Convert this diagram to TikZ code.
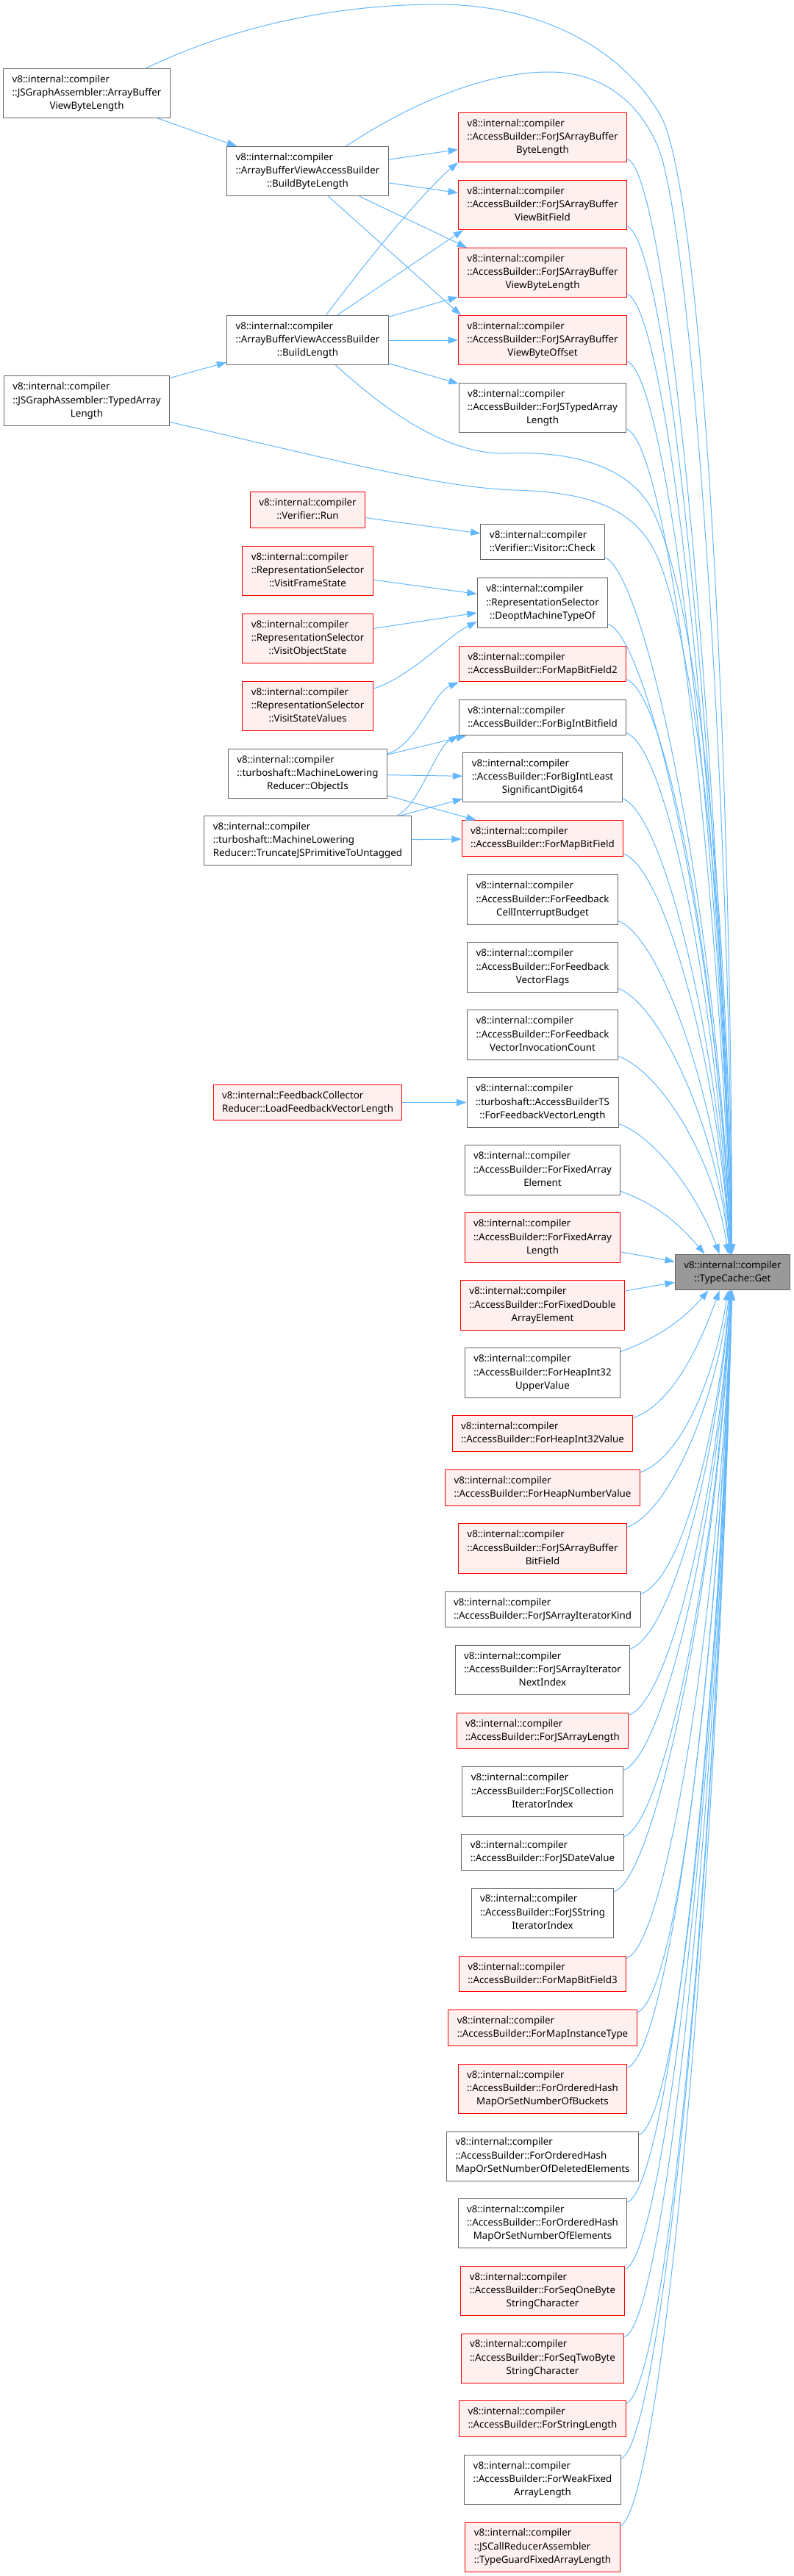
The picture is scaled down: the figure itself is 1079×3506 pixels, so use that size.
\documentclass[tikz,border=0pt]{standalone}
\usepackage{fontspec}
\setmainfont{Noto Sans}
\usepackage{tikz}
\usetikzlibrary{positioning,arrows.meta,calc}
\usepackage{xcolor}
\definecolor{callblue}{HTML}{63B8FF}
\definecolor{boxgrey}{HTML}{666666}
\definecolor{hotfill}{HTML}{FFF0F0}
\definecolor{getfill}{HTML}{999999}
% first lines left, last line centred (doxygen style label)
\newcommand{\fnlabel}[2]{\begin{tabular}{@{}l@{}}#1\\\multicolumn{1}{@{}c@{}}{#2}\end{tabular}}

\begin{document}
\begin{tikzpicture}[x=0.75pt,y=-0.75pt,
  fnbox/.style={draw=boxgrey,fill=white,line width=0.75pt,inner xsep=9pt,inner ysep=4.6pt,font={\fontsize{10}{13.7}\selectfont}},
  hotbox/.style={fnbox,draw=red,fill=hotfill},
  getbox/.style={fnbox,fill=getfill},
  callarrow/.style={draw=callblue,line width=0.75pt,-{Triangle[length=10pt,width=7pt]}}]
\path[use as bounding box,fill=white] (0,0) rectangle (1079,3506);

% callers, far left
\node[fnbox] (a1) at (118,127) {\fnlabel{v8::internal::compiler\\::JSGraphAssembler::ArrayBuffer}{ViewByteLength}};
\node[fnbox] (a2) at (118,545.5) {\fnlabel{v8::internal::compiler\\::JSGraphAssembler::TypedArray}{Length}};

% second column
\node[fnbox] (bbl) at (418.5,233) {\fnlabel{v8::internal::compiler\\::ArrayBufferViewAccessBuilder}{::BuildByteLength}};
\node[fnbox] (bl) at (418.5,463) {\fnlabel{v8::internal::compiler\\::ArrayBufferViewAccessBuilder}{::BuildLength}};
\node[hotbox] (run) at (418.5,694) {\fnlabel{v8::internal::compiler}{::Verifier::Run}};
\node[hotbox] (vfs) at (418.5,777) {\fnlabel{v8::internal::compiler\\::RepresentationSelector}{::VisitFrameState}};
\node[hotbox] (vos) at (418.5,869) {\fnlabel{v8::internal::compiler\\::RepresentationSelector}{::VisitObjectState}};
\node[hotbox] (vsv) at (418.5,961) {\fnlabel{v8::internal::compiler\\::RepresentationSelector}{::VisitStateValues}};
\node[fnbox] (oi) at (418.5,1053) {\fnlabel{v8::internal::compiler\\::turboshaft::MachineLowering}{Reducer::ObjectIs}};
\node[fnbox] (tr) at (418.5,1144) {\fnlabel{v8::internal::compiler\\::turboshaft::MachineLowering}{Reducer::TruncateJSPrimitiveToUntagged}};
\node[hotbox] (lfvl) at (418.5,1500.5) {\fnlabel{v8::internal::FeedbackCollector}{Reducer::LoadFeedbackVectorLength}};

% direct callers of TypeCache::Get
\node[hotbox] (bytelen) at (738,187) {\fnlabel{v8::internal::compiler\\::AccessBuilder::ForJSArrayBuffer}{ByteLength}};
\node[hotbox] (vbf) at (738,279) {\fnlabel{v8::internal::compiler\\::AccessBuilder::ForJSArrayBuffer}{ViewBitField}};
\node[hotbox] (vbl) at (738,371) {\fnlabel{v8::internal::compiler\\::AccessBuilder::ForJSArrayBuffer}{ViewByteLength}};
\node[hotbox] (vbo) at (738,463) {\fnlabel{v8::internal::compiler\\::AccessBuilder::ForJSArrayBuffer}{ViewByteOffset}};
\node[fnbox] (jsta) at (738,555) {\fnlabel{v8::internal::compiler\\::AccessBuilder::ForJSTypedArray}{Length}};
\node[fnbox] (check) at (738,737.5) {\fnlabel{v8::internal::compiler}{::Verifier::Visitor::Check}};
\node[fnbox] (deopt) at (738,820.5) {\fnlabel{v8::internal::compiler\\::RepresentationSelector}{::DeoptMachineTypeOf}};
\node[hotbox] (mbf2) at (738,903.5) {\fnlabel{v8::internal::compiler}{::AccessBuilder::ForMapBitField2}};
\node[fnbox] (bibf) at (738,976.5) {\fnlabel{v8::internal::compiler}{::AccessBuilder::ForBigIntBitfield}};
\node[fnbox] (bilsd) at (738,1058) {\fnlabel{v8::internal::compiler\\::AccessBuilder::ForBigIntLeast}{SignificantDigit64}};
\node[hotbox] (mbf) at (738,1141) {\fnlabel{v8::internal::compiler}{::AccessBuilder::ForMapBitField}};
\node[fnbox] (fcib) at (738,1224.5) {\fnlabel{v8::internal::compiler\\::AccessBuilder::ForFeedback}{CellInterruptBudget}};
\node[fnbox] (fvf) at (738,1316.5) {\fnlabel{v8::internal::compiler\\::AccessBuilder::ForFeedback}{VectorFlags}};
\node[fnbox] (fvic) at (738,1408.5) {\fnlabel{v8::internal::compiler\\::AccessBuilder::ForFeedback}{VectorInvocationCount}};
\node[fnbox] (tsfvl) at (738,1500.5) {\fnlabel{v8::internal::compiler\\::turboshaft::AccessBuilderTS}{::ForFeedbackVectorLength}};
\node[fnbox] (fae) at (738,1592.5) {\fnlabel{v8::internal::compiler\\::AccessBuilder::ForFixedArray}{Element}};
\node[hotbox] (fal) at (738,1684.5) {\fnlabel{v8::internal::compiler\\::AccessBuilder::ForFixedArray}{Length}};
\node[hotbox] (fdae) at (738,1776.5) {\fnlabel{v8::internal::compiler\\::AccessBuilder::ForFixedDouble}{ArrayElement}};
\node[fnbox] (hi32u) at (738,1868.5) {\fnlabel{v8::internal::compiler\\::AccessBuilder::ForHeapInt32}{UpperValue}};
\node[hotbox] (hi32) at (738,1951) {\fnlabel{v8::internal::compiler}{::AccessBuilder::ForHeapInt32Value}};
\node[hotbox] (hnv) at (738,2025) {\fnlabel{v8::internal::compiler}{::AccessBuilder::ForHeapNumberValue}};
\node[hotbox] (jsabbf) at (738,2107.5) {\fnlabel{v8::internal::compiler\\::AccessBuilder::ForJSArrayBuffer}{BitField}};
\node[fnbox] (jsaik) at (738,2190.5) {\fnlabel{v8::internal::compiler}{::AccessBuilder::ForJSArrayIteratorKind}};
\node[fnbox] (jsaini) at (738,2273) {\fnlabel{v8::internal::compiler\\::AccessBuilder::ForJSArrayIterator}{NextIndex}};
\node[hotbox] (jsal) at (738,2355.5) {\fnlabel{v8::internal::compiler}{::AccessBuilder::ForJSArrayLength}};
\node[fnbox] (jscii) at (738,2438.5) {\fnlabel{v8::internal::compiler\\::AccessBuilder::ForJSCollection}{IteratorIndex}};
\node[fnbox] (jsdv) at (738,2521) {\fnlabel{v8::internal::compiler}{::AccessBuilder::ForJSDateValue}};
\node[fnbox] (jssii) at (738,2603.5) {\fnlabel{v8::internal::compiler\\::AccessBuilder::ForJSString}{IteratorIndex}};
\node[hotbox] (mbf3) at (738,2686.5) {\fnlabel{v8::internal::compiler}{::AccessBuilder::ForMapBitField3}};
\node[hotbox] (mit) at (738,2760) {\fnlabel{v8::internal::compiler}{::AccessBuilder::ForMapInstanceType}};
\node[hotbox] (ohb) at (738,2843) {\fnlabel{v8::internal::compiler\\::AccessBuilder::ForOrderedHash}{MapOrSetNumberOfBuckets}};
\node[fnbox] (ohde) at (738,2934.5) {\fnlabel{v8::internal::compiler\\::AccessBuilder::ForOrderedHash}{MapOrSetNumberOfDeletedElements}};
\node[fnbox] (ohe) at (738,3026) {\fnlabel{v8::internal::compiler\\::AccessBuilder::ForOrderedHash}{MapOrSetNumberOfElements}};
\node[hotbox] (sob) at (738,3118) {\fnlabel{v8::internal::compiler\\::AccessBuilder::ForSeqOneByte}{StringCharacter}};
\node[hotbox] (stb) at (738,3209.5) {\fnlabel{v8::internal::compiler\\::AccessBuilder::ForSeqTwoByte}{StringCharacter}};
\node[hotbox] (sl) at (738,3292) {\fnlabel{v8::internal::compiler}{::AccessBuilder::ForStringLength}};
\node[fnbox] (wfal) at (738,3375) {\fnlabel{v8::internal::compiler\\::AccessBuilder::ForWeakFixed}{ArrayLength}};
\node[hotbox] (tgfal) at (738,3466.5) {\fnlabel{v8::internal::compiler\\::JSCallReducerAssembler}{::TypeGuardFixedArrayLength}};

% the callee
\node[getbox] (get) at (996.5,1731.5) {\fnlabel{v8::internal::compiler}{::TypeCache::Get}};

% left part of the graph
\draw[callarrow] (a1) -- (bbl);
\draw[callarrow] (a2) -- (bl);
\draw[callarrow] (bbl) -- (bytelen);
\draw[callarrow] (bbl) -- (vbf);
\draw[callarrow] ($(bbl.south)+(70,0)$) -- ($(vbl.north west)+(12,0)$);
\draw[callarrow] ($(bbl.south)+(28,0)$) -- ($(vbo.north west)+(4,0)$);
\draw[callarrow] ($(bl.north)+(25,0)$) .. controls +(90,-120) and +(-30,25) .. (bytelen.south west);
\draw[callarrow] ($(bl.north)+(40,0)$) -- ($(vbf.south west)+(7,0)$);
\draw[callarrow] (bl) -- (vbl);
\draw[callarrow] (bl) -- (vbo);
\draw[callarrow] (bl) -- (jsta);
\draw[callarrow] (run) -- (check);
\draw[callarrow] (vfs) -- (deopt);
\draw[callarrow] (vos) -- (deopt);
\draw[callarrow] ($(vsv.east)!0.7!(vsv.north east)$) .. controls +(50,-15) and +(-40,20) .. ($(deopt.west)!0.75!(deopt.south west)$);
\draw[callarrow] ($(oi.east)!0.8!(oi.north east)$) .. controls +(40,-12) and +(-35,15) .. (mbf2.south west);
\draw[callarrow] (oi) -- (bibf);
\draw[callarrow] (oi) -- (bilsd);
\draw[callarrow] (oi) -- (mbf);
\draw[callarrow] ($(tr.north)+(122,0)$) .. controls +(30,-15) and +(-30,15) .. (bibf.south west);
\draw[callarrow] (tr) -- (bilsd);
\draw[callarrow] (tr) -- (mbf);
\draw[callarrow] (lfvl) -- (tsfvl);

% long calls into TypeCache::Get
\draw[callarrow] ($(a1.north)+(80,0)$) .. controls (330,30) and (470,6) .. (595,6) .. controls (740,6) and (850,70) .. (900,160) .. controls (955,270) and (995,1000) .. ($(get.north)+(-1,0)$);
\draw[callarrow] ($(bbl.north)+(52,0)$) .. controls (560,140) and (660,98) .. (747,98) .. controls (820,98) and (870,140) .. (895,200) .. controls (940,310) and (992,1050) .. ($(get.north)+(-1,0)$);
\draw[callarrow] ($(bl.south)+(38,0)$) .. controls (510,545) and (600,620) .. (690,617) .. controls (770,614) and (850,630) .. (885,690) .. controls (945,800) and (990,1200) .. ($(get.north)+(-1,0)$);
\draw[callarrow] ($(a2.east)!0.85!(a2.south east)$) .. controls (450,625) and (600,664) .. (700,667) .. controls (800,670) and (865,690) .. (895,760) .. controls (945,880) and (990,1250) .. ($(get.north)+(-1,0)$);

% fan from above
\foreach \nn/\ex/\cx/\cy in {bytelen/-1/20/746, vbf/-1/20/700, vbl/-1/20/654, vbo/-1/20/608, jsta/-2/20/562, check/-2/20/474, deopt/-2/20/429, mbf2/-2/20/391, bibf/-3/20/355, bilsd/-3/20/310, mbf/-3/20/272, fcib/-4/20/227, fvf/-4/20/181, fvic/-6/20/135, tsfvl/-18/25/70, fae/-38/30/35}
  \draw[callarrow] ($(\nn.east)!0.85!(\nn.south east)$) .. controls +(55,20) and +(-\cx,-\cy) .. ($(get.north)+(\ex,0)$);
\draw[callarrow] (fal) -- (get);
\draw[callarrow] (fdae) -- (get);
% fan from below
\foreach \nn/\ex/\cx/\cy in {hi32u/-33/30/35, hi32/-18/25/70, hnv/-6/20/124, jsabbf/-4/20/161, jsaik/-3/20/207, jsaini/-3/20/244, jsal/-2/20/289, jscii/-2/20/327, jsdv/-2/20/372, jssii/-2/20/409, mbf3/-1/20/455, mit/-1/20/491, ohb/-1/20/529, ohde/-1/20/575, ohe/-1/20/621, sob/-1/20/667, stb/-1/20/712, sl/-1/20/757, wfal/-1/20/795, tgfal/-1/20/841}
  \draw[callarrow] ($(\nn.east)!0.85!(\nn.north east)$) .. controls +(55,-20) and +(-\cx,\cy) .. ($(get.south)+(\ex,0)$);
\end{tikzpicture}
\end{document}
